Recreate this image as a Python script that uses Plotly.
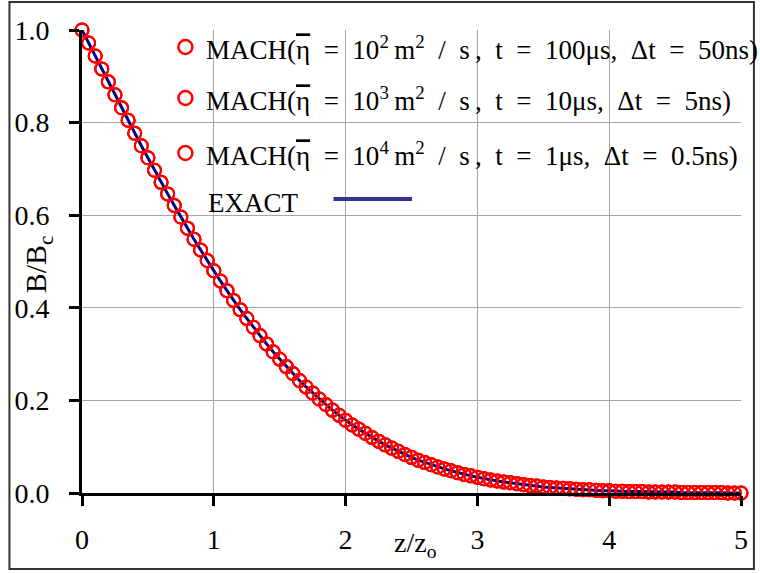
import plotly.graph_objects as go

# ---- data ----
z_vals = [0.00, 0.05, 0.10, 0.15, 0.20, 0.25, 0.30, 0.35, 0.40, 0.45,
          0.50, 0.55, 0.60, 0.65, 0.70, 0.75, 0.80, 0.85, 0.90, 0.95,
          1.00, 1.05, 1.10, 1.15, 1.20, 1.25, 1.30, 1.35, 1.40, 1.45,
          1.50, 1.55, 1.60, 1.65, 1.70, 1.75, 1.80, 1.85, 1.90, 1.95,
          2.00, 2.05, 2.10, 2.15, 2.20, 2.25, 2.30, 2.35, 2.40, 2.45,
          2.50, 2.55, 2.60, 2.65, 2.70, 2.75, 2.80, 2.85, 2.90, 2.95,
          3.00, 3.05, 3.10, 3.15, 3.20, 3.25, 3.30, 3.35, 3.40, 3.45,
          3.50, 3.55, 3.60, 3.65, 3.70, 3.75, 3.80, 3.85, 3.90, 3.95,
          4.00, 4.05, 4.10, 4.15, 4.20, 4.25, 4.30, 4.35, 4.40, 4.45,
          4.50, 4.55, 4.60, 4.65, 4.70, 4.75, 4.80, 4.85, 4.90, 4.95, 5.00]

b_exact = [1.000, 0.972, 0.944, 0.916, 0.888, 0.860, 0.832, 0.805, 0.777, 0.750,
           0.724, 0.697, 0.671, 0.646, 0.621, 0.596, 0.572, 0.548, 0.525, 0.502,
           0.480, 0.458, 0.437, 0.416, 0.396, 0.377, 0.358, 0.340, 0.322, 0.305,
           0.289, 0.273, 0.258, 0.243, 0.229, 0.216, 0.203, 0.191, 0.179, 0.168,
           0.157, 0.147, 0.138, 0.129, 0.120, 0.112, 0.104, 0.097, 0.090, 0.083,
           0.077, 0.071, 0.066, 0.061, 0.056, 0.052, 0.048, 0.044, 0.040, 0.037,
           0.034, 0.031, 0.028, 0.026, 0.024, 0.022, 0.020, 0.018, 0.016, 0.015,
           0.013, 0.012, 0.011, 0.010, 0.009, 0.008, 0.007, 0.007, 0.006, 0.005,
           0.005, 0.004, 0.004, 0.003, 0.003, 0.003, 0.002, 0.002, 0.002, 0.002,
           0.002, 0.001, 0.001, 0.001, 0.001, 0.001, 0.001, 0.001, 0.000, 0.000, 0.000]

# the three MACH runs lie on top of each other in the picture
b_mach_1e2 = list(b_exact)
b_mach_1e3 = list(b_exact)
b_mach_1e4 = list(b_exact)

x_ticks = [0, 1, 2, 3, 4, 5]
y_ticks = [0.0, 0.2, 0.4, 0.6, 0.8, 1.0]

SP = "\u2002"  # en space, mimics equation-editor spacing
ETA = '<span style="text-decoration:overline">\u03b7</span>'
legend_labels = [
    f"MACH({ETA}{SP}={SP}10<sup>2</sup>\u2009m<sup>2</sup>{SP}/{SP}s\u2009,{SP}t{SP}={SP}100\u03bcs,{SP}\u0394t{SP}={SP}50ns)",
    f"MACH({ETA}{SP}={SP}10<sup>3</sup>\u2009m<sup>2</sup>{SP}/{SP}s\u2009,{SP}t{SP}={SP}10\u03bcs,{SP}\u0394t{SP}={SP}5ns)",
    f"MACH({ETA}{SP}={SP}10<sup>4</sup>\u2009m<sup>2</sup>{SP}/{SP}s\u2009,{SP}t{SP}={SP}1\u03bcs,{SP}\u0394t{SP}={SP}0.5ns)",
]
exact_label = "EXACT"

FONT = "Liberation Serif"
RED = "#ff0000"
NAVY = "#000080"

fig = go.Figure()
fig.add_trace(go.Scatter(x=z_vals, y=b_exact, mode="lines",
                         line=dict(color=NAVY, width=3), cliponaxis=False,
                         showlegend=False))
for series in (b_mach_1e2, b_mach_1e3, b_mach_1e4):
    fig.add_trace(go.Scatter(x=z_vals, y=series, mode="markers",
                             marker=dict(symbol="circle-open", size=13, color=RED,
                                         line=dict(width=2, color=RED)),
                             cliponaxis=False, showlegend=False))

W, H = 760, 573
L, R, T, B = 82, 15, 30, 80
pw, ph = W - L - R, H - T - B


def px(xp):
    return (xp - L) / pw


def py(yp):
    return (H - B - yp) / ph


shapes = []
annotations = []
# outer frame
shapes.append(dict(type="rect", xref="paper", yref="paper",
                   x0=px(9), x1=px(758), y0=py(569), y1=py(2),
                   line=dict(color="#333333", width=2), layer="below"))
# custom legend
leg_y = [47, 98, 153]
text_y = [48, 99, 154]
for lbl, cy, ty in zip(legend_labels, leg_y, text_y):
    shapes.append(dict(type="circle", xref="paper", yref="paper",
                       xsizemode="pixel", ysizemode="pixel",
                       xanchor=px(186), yanchor=py(cy),
                       x0=-7, x1=7, y0=-7, y1=7,
                       line=dict(color=RED, width=2.5)))
    annotations.append(dict(text=lbl, xref="paper", yref="paper",
                            x=px(205), y=py(ty), xanchor="left", yanchor="middle",
                            showarrow=False, font=dict(family=FONT, size=27, color="black")))
annotations.append(dict(text=exact_label, xref="paper", yref="paper",
                        x=px(207), y=py(203), xanchor="left", yanchor="middle",
                        showarrow=False, font=dict(family=FONT, size=27, color="black")))
shapes.append(dict(type="line", xref="paper", yref="paper",
                   x0=px(335), x1=px(414), y0=py(199), y1=py(199),
                   line=dict(color="#333399", width=4)))
# axis titles
annotations.append(dict(text="B/B<sub>c</sub>", xref="paper", yref="paper",
                        x=px(38), y=py(264), textangle=-90, showarrow=False,
                        xanchor="center", yanchor="middle",
                        font=dict(family=FONT, size=30, color="black")))
annotations.append(dict(text="z/z<sub>o</sub>", xref="paper", yref="paper",
                        x=px(418), y=py(544), showarrow=False,
                        xanchor="center", yanchor="middle",
                        font=dict(family=FONT, size=28, color="black")))

fig.update_layout(
    width=W, height=H,
    margin=dict(l=L, r=R, t=T, b=B),
    paper_bgcolor="white", plot_bgcolor="white",
    font=dict(family=FONT, size=28, color="black"),
    shapes=shapes, annotations=annotations,
    showlegend=False,
)
fig.update_xaxes(range=[0, 5], tickvals=x_ticks, ticktext=[str(v) for v in x_ticks],
                 showline=True, linecolor="black", linewidth=3,
                 ticks="outside", ticklen=10, tickwidth=3, tickcolor="black",
                 showgrid=True, gridcolor="#a6a6a6", gridwidth=1, zeroline=False,
                 ticklabelstandoff=9, tickfont=dict(family=FONT, size=28))
fig.update_yaxes(range=[0, 1], tickvals=y_ticks, ticktext=[f"{v:.1f}" for v in y_ticks],
                 showline=True, linecolor="black", linewidth=3,
                 ticks="outside", ticklen=10, tickwidth=3, tickcolor="black",
                 showgrid=True, gridcolor="#a6a6a6", gridwidth=1, zeroline=False,
                 ticklabelstandoff=14, tickfont=dict(family=FONT, size=28))

fig.write_html("out.html", config={"displayModeBar": False},
               post_script="document.body.style.margin='0px';")
